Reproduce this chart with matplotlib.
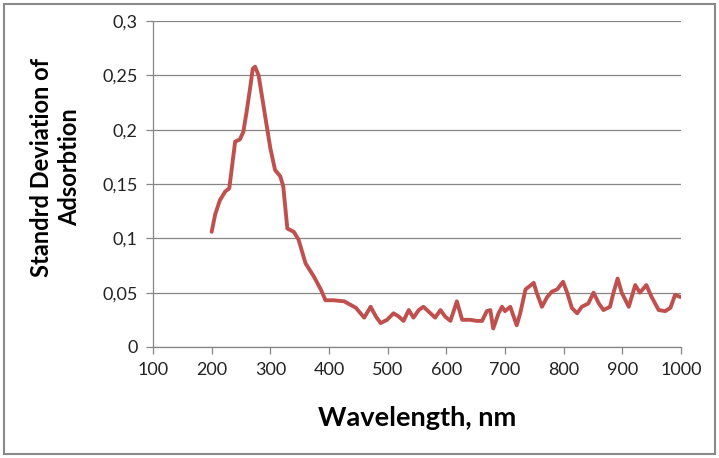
import matplotlib
matplotlib.use("Agg")
from matplotlib import pyplot as plt
from matplotlib.ticker import FuncFormatter, MultipleLocator
from matplotlib.patches import Rectangle

# wavelength (nm) and std deviation of absorption
wavelength = [200, 206, 214, 223, 230, 234, 240, 248, 254, 260, 266, 270, 274,
              280, 286, 294, 300, 308, 317, 322, 329, 340, 348, 360, 374, 386,
              394, 408, 426, 446, 460, 471, 480, 488, 499, 510, 519, 527, 536,
              544, 553, 561, 573, 581, 590, 598, 607, 618, 627, 641, 652, 661,
              669, 675, 680, 689, 695, 700, 709, 720, 726, 735, 749, 754, 763,
              772, 780, 789, 799, 806, 814, 823, 831, 842, 851, 860, 868, 879,
              885, 892, 899, 911, 916, 922, 930, 941, 950, 962, 973, 982, 990,
              999]
std_dev = [0.106, 0.122, 0.135, 0.143, 0.146, 0.163, 0.189, 0.191, 0.198,
           0.218, 0.240, 0.256, 0.258, 0.250, 0.230, 0.203, 0.183, 0.163,
           0.157, 0.148, 0.109, 0.106, 0.099, 0.077, 0.065, 0.053, 0.043,
           0.043, 0.042, 0.036, 0.027, 0.037, 0.028, 0.022, 0.025, 0.031,
           0.028, 0.024, 0.034, 0.027, 0.034, 0.037, 0.031, 0.027, 0.034,
           0.028, 0.024, 0.042, 0.025, 0.025, 0.024, 0.024, 0.033, 0.034,
           0.017, 0.031, 0.037, 0.033, 0.037, 0.020, 0.031, 0.053, 0.059,
           0.050, 0.037, 0.046, 0.051, 0.053, 0.060, 0.050, 0.036, 0.031,
           0.037, 0.040, 0.050, 0.040, 0.034, 0.037, 0.050, 0.063, 0.050,
           0.037, 0.046, 0.057, 0.050, 0.057, 0.046, 0.034, 0.033, 0.036,
           0.048, 0.046]

plt.rcParams['font.family'] = ['Lato', 'DejaVu Sans']

fig = plt.figure(figsize=(7.19, 4.58), dpi=100)
ax = fig.add_axes([0.2128, 0.2424, 0.7343, 0.7117])

ax.plot(wavelength, std_dev, color='#C0504D', linewidth=2.8,
        solid_joinstyle='round', solid_capstyle='round', zorder=3)

ax.set_xlim(100, 1000)
ax.set_ylim(0, 0.3)
ax.xaxis.set_major_locator(MultipleLocator(100))
ax.yaxis.set_major_locator(MultipleLocator(0.05))
ax.yaxis.set_major_formatter(FuncFormatter(
    lambda v, p: '{:g}'.format(round(v, 2)).replace('.', ',')))

ax.grid(axis='y', color='#868686', linewidth=0.9)
ax.set_axisbelow(True)
for s in ['top', 'right']:
    ax.spines[s].set_visible(False)
for s in ['left', 'bottom']:
    ax.spines[s].set_color('#868686')
    ax.spines[s].set_linewidth(0.9)
ax.tick_params(direction='out', length=5, width=0.9, color='#868686',
               labelsize=13, labelcolor='#222222', pad=6)

ax.set_xlabel('Wavelength, nm', fontsize=19.5, fontweight='bold', labelpad=20)
fig.text(0.077, 0.635, 'Standrd Deviation of\nAdsorbtion', rotation=90,
         ha='center', va='center', fontsize=17, fontweight='bold',
         linespacing=1.3)

fig.patches.append(Rectangle((0.006, 0.008), 0.988, 0.984,
                             transform=fig.transFigure, fill=False,
                             edgecolor='#8a8a8a', linewidth=1.5))

fig.savefig('out.png', dpi=100)
